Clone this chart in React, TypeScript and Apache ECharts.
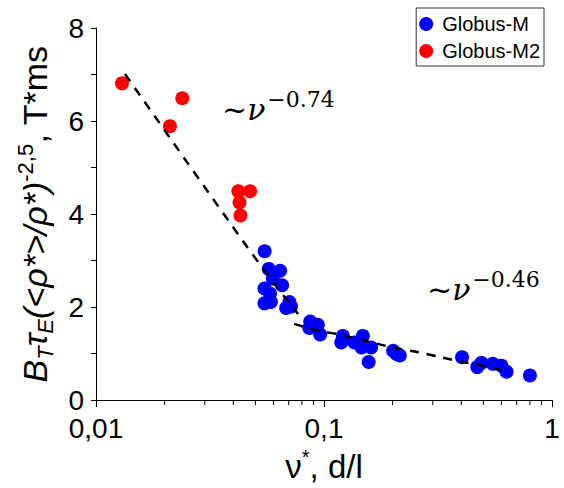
import React, { useEffect, useRef } from "react";
import * as echarts from "echarts";

const redX = [0.013, 0.0239, 0.0211, 0.0421, 0.0474, 0.0426, 0.043];
const redY = [6.81, 6.49, 5.89, 4.49, 4.49, 4.25, 3.97];

const blueX = [
  0.0549, 0.0572, 0.0642, 0.0596, 0.0655, 0.0548, 0.058, 0.0548, 0.0585, 0.0705,
  0.0682, 0.0717, 0.087, 0.0939, 0.0962, 0.0862, 0.121, 0.119, 0.148, 0.136,
  0.146, 0.161, 0.157, 0.208, 0.201, 0.215, 0.403, 0.47, 0.49, 0.55, 0.6, 0.632, 0.8,
];
const blueY = [
  3.2, 2.82, 2.78, 2.61, 2.47, 2.4, 2.29, 2.08, 2.11, 2.11,
  1.98, 2.01, 1.69, 1.62, 1.41, 1.55, 1.38, 1.24, 1.38, 1.24,
  1.13, 1.13, 0.82, 0.99, 1.06, 0.96, 0.92, 0.71, 0.8, 0.78, 0.74, 0.61, 0.53,
];

const fit1X = [0.0134, 0.0186, 0.0252, 0.0341, 0.0462, 0.0627, 0.077];
const fit1Y = [7.01, 6.02, 5.1, 4.19, 3.28, 2.4, 1.85];
const fit2X = [0.074, 0.0924, 0.117, 0.153, 0.201, 0.259, 0.327, 0.407, 0.534, 0.65];
const fit2Y = [1.64, 1.5, 1.41, 1.27, 1.13, 1.03, 0.92, 0.82, 0.71, 0.59];

const minorTicksX = [
  0.02, 0.03, 0.04, 0.05, 0.06, 0.07, 0.08, 0.09,
  0.2, 0.3, 0.4, 0.5, 0.6, 0.7, 0.8, 0.9,
];

const seriesNames = ["Globus-M", "Globus-M2"];

const zip = (xs: number[], ys: number[]) => xs.map((x, i) => [x, ys[i]]);

const SANS = "Arial, 'Liberation Sans', sans-serif";
const SERIF = "'Cambria Math', 'DejaVu Serif', 'Liberation Serif', serif";

export default function App() {
  const ref = useRef<HTMLDivElement>(null);
  useEffect(() => {
    if (!ref.current) return;
    const chart = echarts.init(ref.current, null, { renderer: "svg" });
    const annRich = {
      t: { fontFamily: SERIF, fontSize: 30, color: "#000", lineHeight: 36, verticalAlign: "bottom" },
      n: { fontFamily: SERIF, fontSize: 30, fontStyle: "italic", color: "#000", lineHeight: 36, verticalAlign: "bottom" },
      s: { fontFamily: SERIF, fontSize: 22, color: "#000", lineHeight: 36, verticalAlign: "top", padding: [0, 0, 0, 2] },
    };
    chart.setOption({
      animation: false,
      backgroundColor: "#fff",
      grid: { left: 96, right: 12, top: 28, bottom: 79, containLabel: false },
      legend: {
        data: seriesNames,
        orient: "vertical",
        right: 20,
        top: 8,
        icon: "circle",
        itemWidth: 14,
        itemHeight: 14,
        itemGap: 7,
        padding: [6, 4, 5, 3],
        borderColor: "#333",
        borderWidth: 1,
        textStyle: { fontFamily: SANS, fontSize: 20, color: "#000", padding: [0, 0, 0, 4] },
      },
      xAxis: {
        type: "log",
        logBase: 10,
        min: 0.01,
        max: 1,
        name: "{a|ν}{b|*}{a|, d/l}",
        nameLocation: "middle",
        nameGap: 37,
        nameTextStyle: {
          rich: {
            a: { fontFamily: SANS, fontSize: 33, color: "#000", lineHeight: 36, verticalAlign: "bottom" },
            b: { fontFamily: SANS, fontSize: 20, color: "#000", lineHeight: 36, verticalAlign: "top" },
          },
        },
        axisLine: { show: true, lineStyle: { color: "#000", width: 1 } },
        axisTick: { show: true, length: 7, lineStyle: { color: "#000" } },
        axisLabel: {
          fontFamily: SANS,
          fontSize: 28,
          lineHeight: 28,
          color: "#000",
          margin: 14,
          formatter: (v: number) => String(Number(v.toPrecision(3))).replace(".", ","),
        },
        splitLine: { show: false },
      },
      yAxis: {
        type: "value",
        min: 0,
        max: 8,
        interval: 2,
        name: "{i|B}{si|T}{i|τ}{si|E}{i|(<ρ*>/ρ*)}{sp|-2,5}{n|, T*ms}",
        nameLocation: "middle",
        nameRotate: 90,
        nameGap: 40,
        nameTextStyle: {
          rich: {
            i: { fontFamily: SANS, fontSize: 34, fontStyle: "italic", color: "#000", lineHeight: 42, verticalAlign: "middle" },
            si: { fontFamily: SANS, fontSize: 22, fontStyle: "italic", color: "#000", lineHeight: 42, verticalAlign: "bottom" },
            sp: { fontFamily: SANS, fontSize: 22, color: "#000", lineHeight: 42, verticalAlign: "top" },
            n: { fontFamily: SANS, fontSize: 34, color: "#000", lineHeight: 42, verticalAlign: "middle" },
          },
        },
        axisLine: { show: true, lineStyle: { color: "#000", width: 1 } },
        axisTick: { show: true, length: 5, lineStyle: { color: "#000" } },
        minorTick: { show: true, splitNumber: 2, length: 5, lineStyle: { color: "#000" } },
        axisLabel: { fontFamily: SANS, fontSize: 28, lineHeight: 24, color: "#000", margin: 12 },
        splitLine: { show: false },
      },
      series: [
        {
          name: "Globus-M",
          type: "scatter",
          data: zip(blueX, blueY),
          symbol: "circle",
          symbolSize: 14,
          itemStyle: { color: "#0000ff", opacity: 1 },
          z: 2,
        },
        {
          name: "Globus-M2",
          type: "scatter",
          data: zip(redX, redY),
          symbol: "circle",
          symbolSize: 14,
          itemStyle: { color: "#ff0000", opacity: 1 },
          z: 2,
        },
        {
          name: "fit1",
          type: "line",
          data: zip(fit1X, fit1Y),
          showSymbol: false,
          symbol: "none",
          lineStyle: { color: "#000", width: 2.5, type: [9, 8] },
          z: 5,
          silent: true,
        },
        {
          name: "fit2",
          type: "line",
          data: zip(fit2X, fit2Y),
          showSymbol: false,
          symbol: "none",
          smooth: 0.3,
          lineStyle: { color: "#000", width: 2.5, type: [9, 8] },
          z: 5,
          silent: true,
        },
        {
          name: "minorTicks",
          type: "custom",
          silent: true,
          clip: false,
          data: minorTicksX.map((v) => [v, 0]),
          renderItem: (params: any, api: any) => {
            const p = api.coord([api.value(0), 0]);
            return {
              type: "line",
              shape: { x1: p[0], y1: p[1], x2: p[0], y2: p[1] + 5 },
              style: { stroke: "#000", lineWidth: 1 },
            };
          },
          z: 6,
        },
      ],
      graphic: [
        {
          type: "text",
          x: 222,
          y: 88,
          style: { text: "{t|~}{n|ν}{s|−0.74}", rich: annRich },
        },
        {
          type: "text",
          x: 427,
          y: 268,
          style: { text: "{t|~}{n|ν}{s|−0.46}", rich: annRich },
        },
      ],
    });
    return () => chart.dispose();
  }, []);
  return (
    <div
      ref={ref}
      style={{ width: 564, height: 488, position: "fixed", left: 0, top: 0 }}
    />
  );
}
